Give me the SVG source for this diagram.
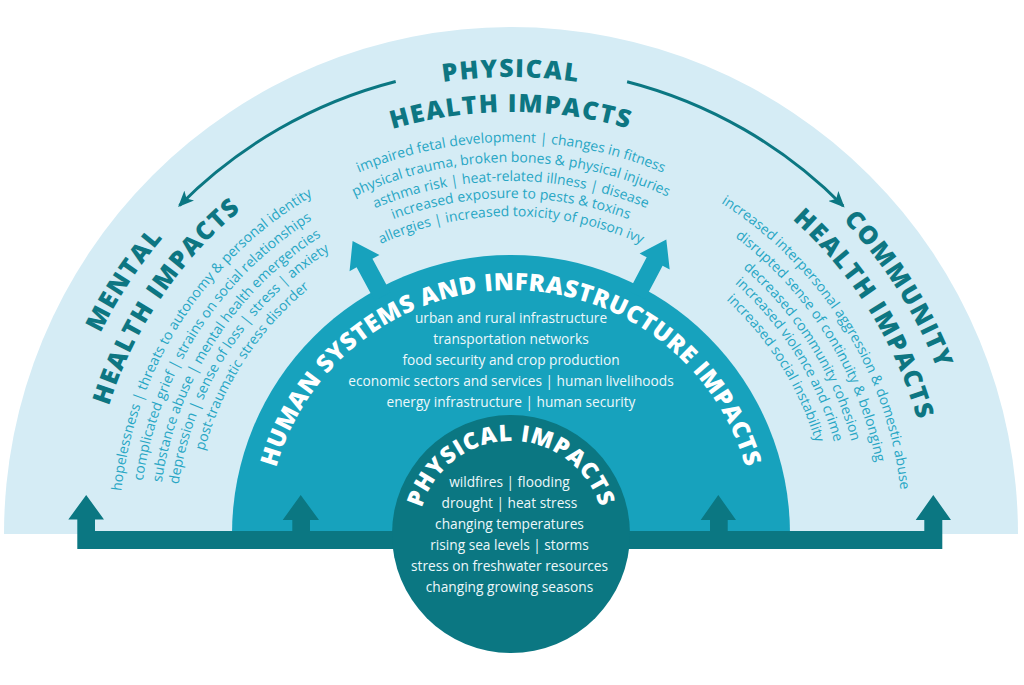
<svg xmlns="http://www.w3.org/2000/svg" width="1024" height="685" viewBox="0 0 1024 685">
<defs>
<style>
.hd{font-family:"Open Sans","Liberation Sans",sans-serif;font-weight:800;font-size:25px;letter-spacing:1.6px;fill:#0d7682}
.bd{font-family:"Open Sans","Liberation Sans",sans-serif;font-weight:400;font-size:14px;fill:#27a6c4}
.wh{font-family:"Open Sans","Liberation Sans",sans-serif;font-weight:800;fill:#ffffff}
.wl{font-family:"Open Sans","Liberation Sans",sans-serif;font-weight:400;font-size:13.7px;fill:#eef8fb;text-anchor:middle}
.dark{fill:#0b7782}
.mid{fill:#17a2bd}
.arc{fill:none;stroke:#0b7782;stroke-width:3}
</style>
<marker id="ah" viewBox="0 0 16 14" refX="14" refY="7" markerWidth="16" markerHeight="14" markerUnits="userSpaceOnUse" orient="auto">
<path d="M0,0 L16,7 L0,14 L4,7 z" fill="#0b7782"/>
</marker>
<path id="r457" d="M54,534 A457,457 0 0 1 968,534"/>
<path id="r422" d="M89,534 A422,422 0 0 1 933,534"/>
<path id="r392" d="M119,534 A392,392 0 0 1 903,534"/>
<path id="r372" d="M139,534 A372,372 0 0 1 883,534"/>
<path id="r353" d="M158,534 A353,353 0 0 1 864,534"/>
<path id="r336" d="M175,534 A336,336 0 0 1 847,534"/>
<path id="r318" d="M193,534 A318,318 0 0 1 829,534"/>
<path id="r244" d="M267,534 A244,244 0 0 1 755,534"/>
<path id="r93" d="M418,534 A93,93 0 0 1 604,534"/>
</defs>

<g id="background">
<path d="M4,534 A507,507 0 0 1 1018,534 Z" fill="#d5ecf5"/>
</g>

<g id="connectors">
<path class="arc" d="M395.7,81.5 A467,467 0 0 0 179.5,205.5" marker-end="url(#ah)"/>
<path class="arc" d="M627.1,81.7 A467,467 0 0 1 843.2,206" marker-end="url(#ah)"/>
</g>

<g id="human-systems">
<path class="mid" d="M232,534 A279,279 0 0 1 790,534 Z"/>
<polygon class="mid" transform="translate(511,534) rotate(-28.4)" points="-9,-270 -9,-308 -17,-308 0,-333 17,-308 9,-308 9,-270"/>
<polygon class="mid" transform="translate(511,534) rotate(27.8)" points="-9,-270 -9,-308 -17,-308 0,-333 17,-308 9,-308 9,-270"/>
<text class="wh" font-size="24" letter-spacing="0.6" text-anchor="middle"><textPath href="#r244" startOffset="50%">HUMAN SYSTEMS AND INFRASTRUCTURE IMPACTS</textPath></text>
<text class="wl" x="511" y="323">urban and rural infrastructure</text>
<text class="wl" x="511" y="344">transportation networks</text>
<text class="wl" x="511" y="365">food security and crop production</text>
<text class="wl" x="511" y="386">economic sectors and services | human livelihoods</text>
<text class="wl" x="511" y="407">energy infrastructure | human security</text>
</g>

<g id="impact-bar">
<rect class="dark" x="77.3" y="531" width="865" height="18"/>
<polygon class="dark" points="77.3,531 77.3,519.5 68.3,519.5 86.2,495 104,519.5 95,519.5 95,531"/>
<polygon class="dark" points="292.3,531 292.3,520 282.7,520 300.7,495 319,520 310,520 310,531"/>
<polygon class="dark" points="710,531 710,520 700.7,520 718.3,495 736,520 727.7,520 727.7,531"/>
<polygon class="dark" points="924.3,531 924.3,520 915.7,520 933.3,495 951,520 942.3,520 942.3,531"/>
</g>

<g id="physical-impacts">
<circle class="dark" cx="511" cy="534" r="119"/>
<text class="wh" font-size="23" letter-spacing="1" text-anchor="middle"><textPath href="#r93" startOffset="50%">PHYSICAL IMPACTS</textPath></text>
<text class="wl" x="509.5" y="487">wildfires | flooding</text>
<text class="wl" x="509.5" y="508">drought | heat stress</text>
<text class="wl" x="509.5" y="529">changing temperatures</text>
<text class="wl" x="509.5" y="550">rising sea levels | storms</text>
<text class="wl" x="509.5" y="571">stress on freshwater resources</text>
<text class="wl" x="509.5" y="592">changing growing seasons</text>
</g>

<g id="physical-health">
<text class="hd" text-anchor="middle"><textPath href="#r457" startOffset="50%">PHYSICAL</textPath></text>
<text class="hd" text-anchor="middle"><textPath href="#r422" startOffset="50%">HEALTH IMPACTS</textPath></text>
<text class="bd" text-anchor="middle"><textPath href="#r392" startOffset="50%">impaired fetal development | changes in fitness</textPath></text>
<text class="bd" text-anchor="middle"><textPath href="#r372" startOffset="50%">physical trauma, broken bones &amp; physical injuries</textPath></text>
<text class="bd" text-anchor="middle"><textPath href="#r353" startOffset="50%">asthma risk | heat-related illness | disease</textPath></text>
<text class="bd" text-anchor="middle"><textPath href="#r336" startOffset="50%">increased exposure to pests &amp; toxins</textPath></text>
<text class="bd" text-anchor="middle"><textPath href="#r318" startOffset="50%">allergies | increased toxicity of poison ivy</textPath></text>
</g>

<g id="mental-health">
<text class="hd" text-anchor="middle"><textPath href="#r457" startOffset="18.5%">MENTAL</textPath></text>
<text class="hd" text-anchor="middle"><textPath href="#r422" startOffset="18.9%">HEALTH IMPACTS</textPath></text>
<text class="bd" text-anchor="middle"><textPath href="#r392" startOffset="18.3%">hopelessness | threats to autonomy &amp; personal identity</textPath></text>
<text class="bd" text-anchor="middle"><textPath href="#r372" startOffset="18.3%">complicated grief | strains on social relationships</textPath></text>
<text class="bd" text-anchor="middle"><textPath href="#r353" startOffset="18.3%">substance abuse | mental health emergencies</textPath></text>
<text class="bd" text-anchor="middle"><textPath href="#r336" startOffset="18.3%">depression | sense of loss | stress | anxiety</textPath></text>
<text class="bd" text-anchor="middle"><textPath href="#r318" startOffset="18.3%">post-traumatic stress disorder</textPath></text>
</g>

<g id="community-health">
<text class="hd" text-anchor="middle"><textPath href="#r457" startOffset="82.1%">COMMUNITY</textPath></text>
<text class="hd" text-anchor="middle"><textPath href="#r422" startOffset="82.3%">HEALTH IMPACTS</textPath></text>
<text class="bd" text-anchor="middle"><textPath href="#r392" startOffset="82.2%">increased interpersonal aggression &amp; domestic abuse</textPath></text>
<text class="bd" text-anchor="middle"><textPath href="#r372" startOffset="82.2%">disrupted sense of continuity &amp; belonging</textPath></text>
<text class="bd" text-anchor="middle"><textPath href="#r353" startOffset="82.2%">decreased community cohesion</textPath></text>
<text class="bd" text-anchor="middle"><textPath href="#r336" startOffset="82.2%">increased violence and crime</textPath></text>
<text class="bd" text-anchor="middle"><textPath href="#r318" startOffset="82.2%">increased social instability</textPath></text>
</g>
</svg>
